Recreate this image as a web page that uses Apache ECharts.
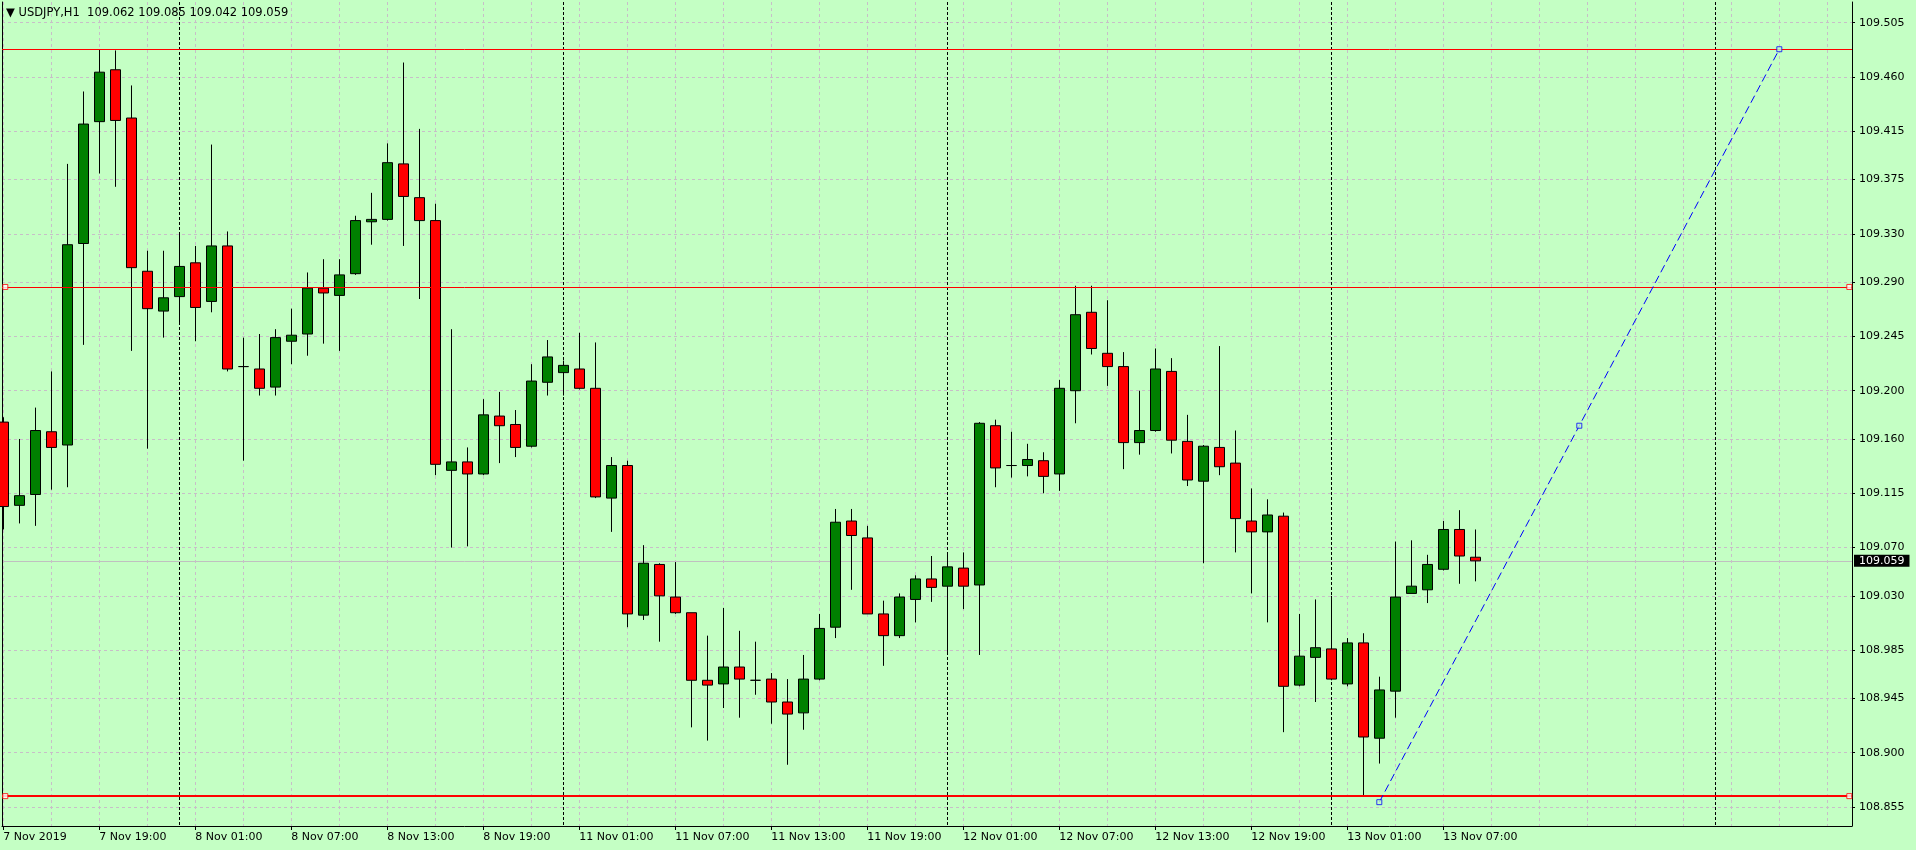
<!DOCTYPE html>
<html><head><meta charset="utf-8">
<script src="https://cdn.jsdelivr.net/npm/echarts@6/dist/echarts.min.js"></script>
<style>html,body{margin:0;padding:0;background:#c4ffc4;}#c{width:1916px;height:850px;}</style>
</head><body><div id="c"></div>
<script>
const symbolName = 'USDJPY';
const timeframe = 'H1';
// OHLC per H1 bar, index 0 = 7 Nov 2019 13:00
const open  = [109.174,109.105,109.114,109.166,109.155,109.322,109.423,109.466,109.426,109.299,109.266,109.278,109.306,109.274,109.320,109.220,109.218,109.203,109.241,109.247,109.285,109.279,109.297,109.340,109.342,109.388,109.360,109.341,109.134,109.141,109.131,109.179,109.172,109.154,109.207,109.215,109.218,109.202,109.111,109.138,109.014,109.056,109.029,109.016,108.960,108.957,108.971,108.960,108.961,108.942,108.933,108.961,109.004,109.092,109.078,109.015,108.997,109.027,109.044,109.038,109.053,109.039,109.171,109.138,109.138,109.142,109.131,109.200,109.265,109.231,109.220,109.157,109.167,109.216,109.158,109.125,109.153,109.140,109.092,109.083,109.096,108.956,108.979,108.986,108.957,108.991,108.912,108.951,109.032,109.035,109.052,109.085,109.062];
const high  = [109.178,109.160,109.186,109.216,109.388,109.448,109.483,109.482,109.453,109.316,109.316,109.330,109.320,109.404,109.332,109.244,109.247,109.251,109.268,109.298,109.309,109.309,109.345,109.364,109.405,109.472,109.417,109.355,109.251,109.153,109.193,109.199,109.184,109.222,109.242,109.225,109.248,109.240,109.145,109.142,109.072,109.057,109.058,109.016,108.997,109.020,109.001,108.992,108.966,108.961,108.981,109.015,109.102,109.102,109.088,109.026,109.032,109.047,109.063,109.064,109.066,109.174,109.176,109.166,109.156,109.149,109.209,109.287,109.287,109.275,109.232,109.200,109.235,109.227,109.180,109.155,109.237,109.167,109.119,109.110,109.099,109.015,109.027,109.030,108.995,108.999,108.963,109.075,109.076,109.064,109.092,109.101,109.085];
const low   = [109.085,109.090,109.088,109.118,109.120,109.238,109.380,109.369,109.233,109.152,109.244,109.255,109.241,109.265,109.216,109.142,109.196,109.196,109.222,109.229,109.239,109.233,109.296,109.321,109.341,109.320,109.276,109.130,109.070,109.071,109.130,109.140,109.145,109.153,109.196,109.196,109.201,109.111,109.083,109.004,109.010,108.992,109.015,108.921,108.910,108.937,108.929,108.948,108.924,108.890,108.919,108.960,108.995,109.035,109.015,108.972,108.995,109.008,109.025,108.983,109.019,108.981,109.120,109.128,109.129,109.115,109.117,109.173,109.230,109.204,109.135,109.147,109.166,109.148,109.121,109.057,109.130,109.066,109.032,109.008,108.917,108.955,108.942,108.960,108.955,108.864,108.891,108.929,109.032,109.024,109.051,109.040,109.042];
const close = [109.104,109.113,109.167,109.153,109.321,109.421,109.464,109.424,109.302,109.268,109.277,109.303,109.269,109.320,109.218,109.220,109.202,109.244,109.246,109.285,109.281,109.296,109.341,109.342,109.389,109.361,109.341,109.139,109.141,109.131,109.180,109.171,109.153,109.208,109.228,109.221,109.202,109.112,109.138,109.015,109.057,109.030,109.016,108.960,108.956,108.971,108.961,108.960,108.942,108.932,108.961,109.003,109.091,109.080,109.015,108.997,109.029,109.044,109.037,109.054,109.038,109.173,109.136,109.138,109.143,109.129,109.202,109.263,109.235,109.220,109.157,109.167,109.218,109.159,109.126,109.154,109.137,109.094,109.083,109.097,108.955,108.980,108.987,108.961,108.991,108.913,108.952,109.029,109.038,109.056,109.085,109.063,109.059];

const xTickIdx = [0,6,12,18,24,30,36,42,48,54,60,66,72,78,84,90];
const xTickLabels = ['7 Nov 2019','7 Nov 19:00','8 Nov 01:00','8 Nov 07:00','8 Nov 13:00','8 Nov 19:00','11 Nov 01:00','11 Nov 07:00','11 Nov 13:00','11 Nov 19:00','12 Nov 01:00','12 Nov 07:00','12 Nov 13:00','12 Nov 19:00','13 Nov 01:00','13 Nov 07:00'];
const xGridIdx = [0,3,6,9,12,15,18,21,24,27,30,33,36,39,42,45,48,51,54,57,60,63,66,69,72,75,78,81,84,87,90,93,96,99,102,105,108,111,114];
const daySeparatorIdx = [11,35,59,83,107];
const yTickValues = [109.505,109.460,109.415,109.375,109.330,109.290,109.245,109.200,109.160,109.115,109.070,109.030,108.985,108.945,108.900,108.855];

const resistanceLevel = 109.483;
const pivotLevel = 109.286;
const supportLevel = 108.864;
const trendX = [86, 98.5, 111];
const trendY = [108.859, 109.171, 109.483];
const handleX = [0.125, 115.375];

const X_MIN = -0.08125, X_MAX = 115.54375;
const Y_MIN = 108.83924, Y_MAX = 109.52216;
const FONT = 'DejaVu Sans';
const last = open.length - 1;
const lastClose = close[last];

const candleData = open.map((o, i) => [i, o, close[i], low[i], high[i]]);
const trendData = trendX.map((x, i) => [x, trendY[i]]);
const handleData = [];
[pivotLevel, supportLevel].forEach(lv => handleX.forEach(x => handleData.push([x, lv])));

const chart = echarts.init(document.getElementById('c'), null, {renderer: 'canvas'});
const gridDash = {color: '#c8bec8', type: [3, 3], width: 1};
const hidden = {axisLine: {show: false}, axisLabel: {show: false}};
function levelAxis(values, color, width, z) {
  return Object.assign({
    type: 'value', min: Y_MIN, max: Y_MAX, position: 'right', z: z,
    axisTick: {show: false, customValues: values},
    splitLine: {show: true, lineStyle: {color: color, type: 'solid', width: width}}
  }, hidden);
}
chart.setOption({
  animation: false,
  backgroundColor: '#c4ffc4',
  title: {
    text: '\u25BC ' + symbolName + ',' + timeframe + '  ' + [open[last], high[last], low[last], close[last]].map(v => v.toFixed(3)).join(' '),
    left: 6, top: 7, padding: 0,
    textStyle: {fontFamily: FONT, fontSize: 11.5, fontWeight: 'normal', color: '#000'}
  },
  grid: {left: 2, right: 64, top: 2, bottom: 24, outerBoundsMode: 'none', containLabel: false},
  xAxis: [
    {
      type: 'value', min: X_MIN, max: X_MAX, position: 'bottom',
      axisLine: {show: true, onZero: false, lineStyle: {color: '#000', width: 1}},
      axisTick: {show: true, customValues: xTickIdx, length: 4, lineStyle: {color: '#000'}},
      axisLabel: {
        customValues: xTickIdx, align: 'left', margin: 6,
        fontFamily: FONT, fontSize: 11, color: '#000',
        formatter: v => { const k = xTickIdx.indexOf(Math.round(v)); return k >= 0 ? xTickLabels[k] : ''; }
      },
      splitLine: {show: false}
    },
    Object.assign({
      type: 'value', min: X_MIN, max: X_MAX, position: 'bottom',
      axisTick: {show: false, customValues: xGridIdx},
      splitLine: {show: true, lineStyle: gridDash}
    }, hidden),
    Object.assign({
      type: 'value', min: X_MIN, max: X_MAX, position: 'bottom', z: 1,
      axisTick: {show: false, customValues: daySeparatorIdx},
      splitLine: {show: true, lineStyle: {color: '#000', type: [3, 2], width: 1}}
    }, hidden)
  ],
  yAxis: [
    {
      type: 'value', min: Y_MIN, max: Y_MAX, position: 'right',
      axisLine: {show: true, onZero: false, lineStyle: {color: '#000', width: 1}},
      axisTick: {show: true, customValues: yTickValues, length: 3, lineStyle: {color: '#000'}},
      axisLabel: {customValues: yTickValues, margin: 7, fontFamily: FONT, fontSize: 11, color: '#000',
        formatter: v => v.toFixed(3)},
      splitLine: {show: true, lineStyle: gridDash}
    },
    {
      type: 'value', min: Y_MIN, max: Y_MAX, position: 'right',
      axisLine: {show: false},
      axisTick: {show: false, customValues: [lastClose]},
      axisLabel: {customValues: [lastClose], margin: 2, fontFamily: FONT, fontSize: 11, color: '#fff',
        backgroundColor: '#000', padding: [1, 5, 0, 5], formatter: v => v.toFixed(3)},
      splitLine: {show: true, lineStyle: {color: '#c0c0c0', type: 'solid', width: 1}}
    },
    {
      type: 'value', min: Y_MIN, max: Y_MAX, position: 'left',
      axisLine: {show: true, onZero: false, lineStyle: {color: '#000', width: 1}},
      axisTick: {show: false}, axisLabel: {show: false}, splitLine: {show: false}
    },
    levelAxis([resistanceLevel, pivotLevel], '#ff0000', 1, 4),
    levelAxis([supportLevel], '#ff0000', 2, 4)
  ],
  series: [
    {
      type: 'candlestick', xAxisIndex: 0, yAxisIndex: 0,
      barWidth: 10,
      data: candleData,
      itemStyle: {color: '#008000', color0: '#ff0000', borderColor: '#000', borderColor0: '#000', borderColorDoji: '#000', borderWidth: 1}
    },
    {
      type: 'line', xAxisIndex: 0, yAxisIndex: 0, z: 6,
      data: [trendData[0], trendData[2]],
      symbol: 'none', lineStyle: {color: '#0000ff', width: 1, type: [8, 4]}
    },
    {
      type: 'scatter', xAxisIndex: 0, yAxisIndex: 0, z: 7,
      data: trendData, symbol: 'rect', symbolSize: 5,
      itemStyle: {color: '#c4ffc4', borderColor: '#0000ff', borderWidth: 1}
    },
    {
      type: 'scatter', xAxisIndex: 0, yAxisIndex: 0, z: 7,
      data: handleData, symbol: 'rect', symbolSize: 5,
      itemStyle: {color: '#ffffff', borderColor: '#ff0000', borderWidth: 1}
    }
  ]
});
</script>
</body></html>
